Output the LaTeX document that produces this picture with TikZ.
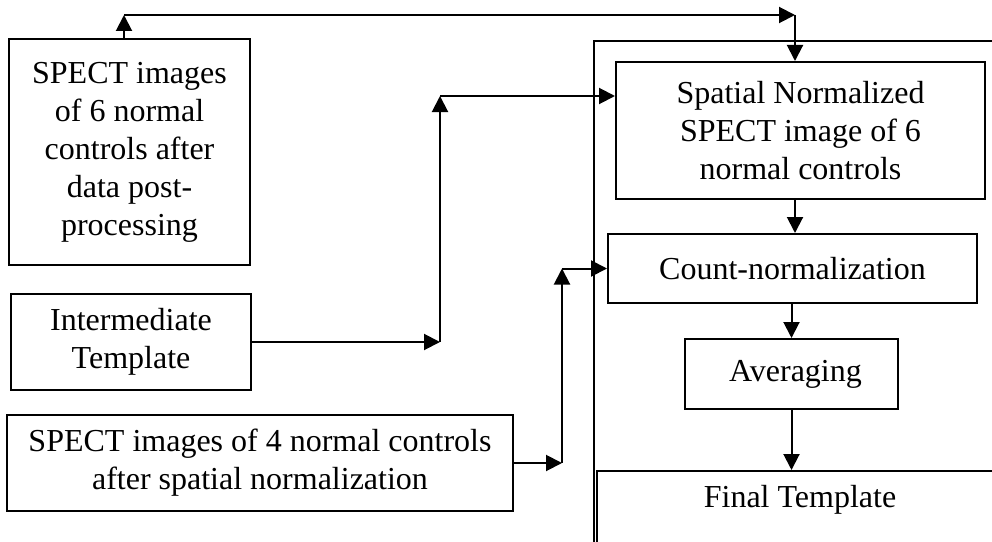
\documentclass[tikz,border=0pt]{standalone}
\usepackage{fontspec}
\setmainfont{Liberation Serif}
\usetikzlibrary{arrows.meta}
\begin{document}
\begin{tikzpicture}[x=0.75pt,y=-0.75pt,
  box/.style={draw, line width=1.5pt, inner sep=0pt, align=center,
    font=\fontsize{24}{28.5}\selectfont},
  label/.style={inner sep=0pt, align=center, font=\fontsize{24}{28.5}\selectfont},
  conn/.style={line width=1.5pt, -{Triangle[length=12pt,width=12pt]}}]
\useasboundingbox (0,0) rectangle (992,542);

% left column: inputs
\node[box, minimum width={241*0.75pt}, minimum height={226*0.75pt}] (boxA) at (129.5,152)
  {SPECT images\\of 6 normal\\controls after\\data post-\\processing};
\node[box, minimum width={240*0.75pt}, minimum height={96*0.75pt}] (inter) at (131,342)
  {Intermediate\\Template};
\node[box, minimum width={506*0.75pt}, minimum height={96*0.75pt}] (spect4) at (260,463)
  {SPECT images of 4 normal controls\\after spatial normalization};

% right column: processing group
\node[box, minimum width={430*0.75pt}, minimum height={540*0.75pt}, anchor=north west] (group) at (593,40) {};
\node[box, fill=white, minimum width={369*0.75pt}, minimum height={137*0.75pt}] (spatial) at (800.5,130.5)
  {Spatial Normalized\\SPECT image of 6\\normal controls};
\node[box, minimum width={369*0.75pt}, minimum height={69*0.75pt}] (count) at (792.5,268.5)
  {Count-normalization};
\node[box, minimum width={213*0.75pt}, minimum height={70*0.75pt}] (avg) at (791.5,374)
  {\ Averaging};
\node[box, minimum width={430*0.75pt}, minimum height={110*0.75pt}, anchor=north west] (finalbox) at (596,470) {};
\node[label] (final) at (800,500) {Final Template};

% routing points
\coordinate (up1) at (124,15);
\coordinate (up2) at (795,15);
\coordinate (mid) at (440,342);
\coordinate (midtop) at (440,96);
\coordinate (low) at (562,463);
\coordinate (lowtop) at (562,268.5);

% connectors
\draw[conn] (up1 |- boxA.north) -- (up1);
\draw[conn] (up1) -- (up2);
\draw[conn] (up2) -- (up2 |- spatial.north);

\draw[conn] (inter.east) -- (mid);
\draw[conn] (mid) -- (midtop);
\draw[conn] (midtop) -- (midtop -| spatial.west);

\draw[conn] (spect4.east) -- (low);
\draw[conn] (low) -- (lowtop);
\draw[conn] (lowtop) -- (count.west);

\draw[conn] (spatial.south -| up2) -- (count.north -| up2);
\draw[conn] (avg.north |- count.south) -- (avg.north);
\draw[conn] (avg.south) -- (avg.south |- finalbox.north);
\end{tikzpicture}
\end{document}
